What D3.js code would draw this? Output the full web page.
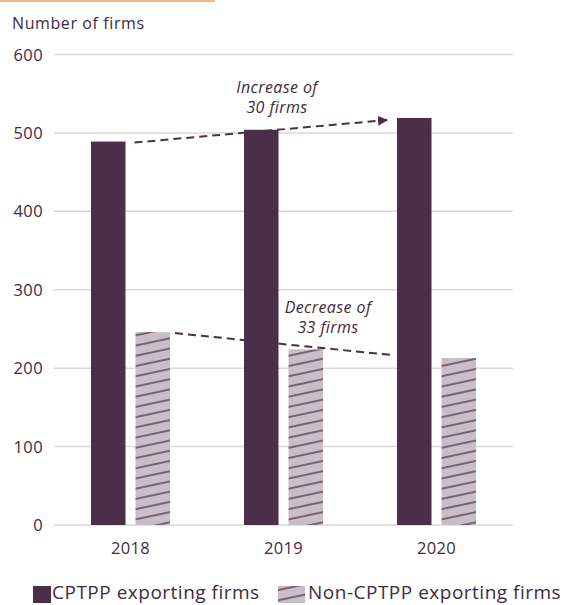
<!DOCTYPE html>
<html>
<head>
<meta charset="utf-8">
<style>
  body { margin: 0; background: #fff; }
  svg { display: block; font-family: "Open Sans", sans-serif; }
  .grid line { stroke: #d9d9d9; stroke-width: 1.5px; }
  text { fill: #3f2b3d; }
</style>
</head>
<body>
<svg width="567" height="605"></svg>
<script src="https://d3js.org/d3.v7.min.js"></script>
<script>
// data
const years = ["2018", "2019", "2020"];
const cptpp = [489, 504, 519];
const nonCptpp = [246, 224, 213];
const seriesNames = ["CPTPP exporting firms", "Non-CPTPP exporting firms"];
const yTicks = [0, 100, 200, 300, 400, 500, 600];

const dark = "#4b2f49";
const svg = d3.select("svg");

// orange rule at the very top
svg.append("rect").attr("x", 0).attr("y", 0).attr("width", 215).attr("height", 2).attr("fill", "#f5b886");

// hatch pattern
const defs = svg.append("defs");
const pat = defs.append("pattern")
  .attr("id", "hatch")
  .attr("patternUnits", "userSpaceOnUse")
  .attr("width", 10).attr("height", 10)
  .attr("patternTransform", "rotate(-12)");
pat.append("rect").attr("width", 10).attr("height", 10).attr("fill", "#c9bec6");
pat.append("line").attr("x1", 0).attr("x2", 10).attr("y1", 5).attr("y2", 5)
  .attr("stroke", dark).attr("stroke-width", 1.3);

const x = d3.scaleBand().domain(years).range([54, 513]).padding(0);
const xSub = d3.scaleBand().domain(seriesNames)
  .range([x.bandwidth() / 2 - 39.5, x.bandwidth() / 2 + 39.5])
  .paddingInner(0.225).paddingOuter(0);
const y = d3.scaleLinear().domain([0, 600]).range([525, 54.5]);

// gridlines
const grid = svg.append("g").attr("class", "grid");
grid.selectAll("line").data(yTicks).join("line")
  .attr("x1", 54).attr("x2", 513)
  .attr("y1", d => y(d)).attr("y2", d => y(d));

// y tick labels
svg.append("g").selectAll("text").data(yTicks).join("text")
  .attr("x", 43).attr("y", d => y(d) + 6)
  .attr("text-anchor", "end")
  .attr("font-size", 16.5)
  .attr("letter-spacing", 0.4)
  .text(d => d);

svg.append("text").attr("x", 12).attr("y", 29).attr("font-size", 16)
  .attr("letter-spacing", 0.6).text("Number of firms");

// x labels
svg.append("g").selectAll("text").data(years).join("text")
  .attr("x", d => x(d) + x.bandwidth() / 2)
  .attr("y", 554)
  .attr("text-anchor", "middle")
  .attr("font-size", 16.5)
  .attr("letter-spacing", 0.3)
  .text(d => d);

// annotation lines (behind bars)
defs.append("marker").attr("id", "arrow")
  .attr("viewBox", "0 0 10 10").attr("refX", 9).attr("refY", 5)
  .attr("markerWidth", 5).attr("markerHeight", 5).attr("orient", "auto")
  .append("path").attr("d", "M0,0 L10,5 L0,10 z").attr("fill", dark);

const ann = svg.append("g").attr("fill", "none").attr("stroke", dark)
  .attr("stroke-width", 2).attr("stroke-dasharray", "8,5");
ann.append("line")
  .attr("x1", x("2018") + xSub(seriesNames[0]) + xSub.bandwidth() + 9)
  .attr("y1", y(cptpp[0]) + 1)
  .attr("x2", x("2020") + xSub(seriesNames[0]) - 10)
  .attr("y2", y(cptpp[2]) + 2)
  .attr("marker-end", "url(#arrow)");
ann.append("line")
  .attr("x1", x("2018") + xSub(seriesNames[1]) + xSub.bandwidth() + 5)
  .attr("y1", y(nonCptpp[0]) + 1)
  .attr("x2", x("2020") + xSub(seriesNames[0]) - 6)
  .attr("y2", y(nonCptpp[2]) - 3);

// bars
const rows = years.map((yr, i) => ({ year: yr, vals: [cptpp[i], nonCptpp[i]] }));
const groups = svg.append("g").selectAll("g").data(rows).join("g")
  .attr("transform", d => `translate(${x(d.year)},0)`);
groups.selectAll("rect").data(d => d.vals.map((v, j) => ({ key: seriesNames[j], v }))).join("rect")
  .attr("x", d => xSub(d.key))
  .attr("width", xSub.bandwidth())
  .attr("y", d => y(d.v))
  .attr("height", d => y(0) - y(d.v))
  .attr("fill", (d, j) => j === 0 ? dark : "url(#hatch)");

// annotation texts
const note = (lines, cx, y0) => {
  const t = svg.append("text").attr("font-style", "italic").attr("font-size", 16)
    .attr("letter-spacing", 0.4).attr("text-anchor", "middle");
  lines.forEach((s, i) => t.append("tspan").attr("x", cx).attr("y", y0 + i * 20).text(s));
};
note(["Increase of", "30 firms"], 277, 93);
note(["Decrease of", "33 firms"], 328, 313);

// legend
const leg = svg.append("g");
leg.append("rect").attr("x", 33).attr("y", 586).attr("width", 18).attr("height", 17).attr("fill", dark);
leg.append("text").attr("x", 52).attr("y", 599).attr("font-size", 19)
  .attr("letter-spacing", 0.5).text(seriesNames[0]);
leg.append("rect").attr("x", 278).attr("y", 586).attr("width", 27).attr("height", 17).attr("fill", "url(#hatch)");
leg.append("text").attr("x", 308).attr("y", 599).attr("font-size", 19)
  .attr("letter-spacing", 0.5).text(seriesNames[1]);
</script>
</body>
</html>
